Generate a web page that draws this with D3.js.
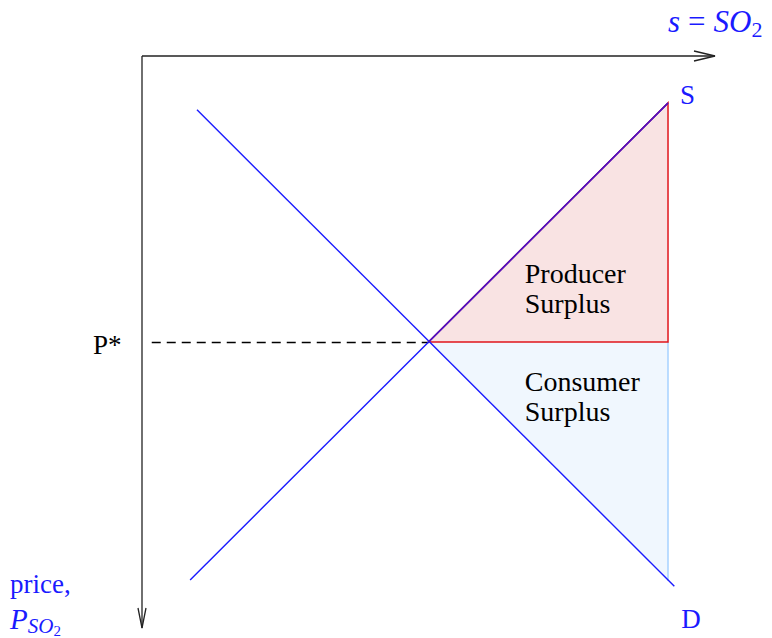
<!DOCTYPE html>
<html>
<head>
<meta charset="utf-8">
<script src="https://cdn.jsdelivr.net/npm/d3@7"></script>
<style>
  body { margin: 0; background: #fff; }
  svg text { font-family: "Liberation Serif", "DejaVu Serif", serif; }
</style>
</head>
<body>
<div id="chart"></div>
<script>
// quantity (right) and price (down) in abstract units
const supplyPts = [{ q: 0.84, p: 9.16 }, { q: 9.18, p: 0.82 }];
const demandPts = [{ q: 0.96, p: 0.94 }, { q: 9.29, p: 9.27 }];
const equilibrium = { q: 5.0, p: 5.0 };
const producerArea = [{ q: 5.0, p: 5.0 }, { q: 9.18, p: 0.82 }, { q: 9.18, p: 5.0 }];
const consumerArea = [{ q: 5.0, p: 5.0 }, { q: 9.18, p: 5.0 }, { q: 9.18, p: 9.18 }];
const dashStart = 0.17;
const areaLabels = [
  { lines: ["Producer", "Surplus"], q: 6.68, p: 3.97 },
  { lines: ["Consumer", "Surplus"], q: 6.68, p: 5.85 },
];

const width = 772, height = 638;
const origin = { x: 142, y: 56 };

const svg = d3.select("#chart").append("svg")
  .attr("width", width)
  .attr("height", height);

const x = d3.scaleLinear().domain([0, 10]).range([origin.x, 715]);
const y = d3.scaleLinear().domain([0, 10]).range([origin.y, 628]);

const line = d3.line().x(d => x(d.q)).y(d => y(d.p));

// surplus areas
svg.append("path")
  .attr("d", line(consumerArea) + "Z")
  .attr("fill", "#f0f7fe")
  .attr("stroke", "none");
svg.append("path")
  .attr("d", line([consumerArea[1], consumerArea[2]]))
  .attr("stroke", "#99ccff")
  .attr("stroke-width", 1.3)
  .attr("fill", "none");

svg.append("path")
  .attr("d", line(producerArea) + "Z")
  .attr("fill", "#f9e3e3")
  .attr("stroke", "#e0161c")
  .attr("stroke-width", 1.5);

// dashed P* guide
svg.append("line")
  .attr("x1", x(dashStart)).attr("x2", x(equilibrium.q))
  .attr("y1", y(equilibrium.p) + 0.5).attr("y2", y(equilibrium.p) + 0.5)
  .attr("stroke", "#000")
  .attr("stroke-width", 1.3)
  .attr("stroke-dasharray", "9,6");

// supply & demand
[supplyPts, demandPts].forEach(pts => {
  svg.append("path")
    .attr("d", line(pts))
    .attr("fill", "none")
    .attr("stroke", "#1a1aff")
    .attr("stroke-width", 1.4);
});
// purple edge along supply where it bounds producer surplus
svg.append("path")
  .attr("d", line([producerArea[0], producerArea[1]]))
  .attr("fill", "none")
  .attr("stroke", "#5a10b8")
  .attr("stroke-width", 1.4);

// axes
const axisG = svg.append("g")
  .attr("stroke", "#222")
  .attr("stroke-width", 1.3)
  .attr("fill", "none");
const xEnd = x.range()[1], yEnd = y.range()[1];
axisG.append("path").attr("d", `M${origin.x},${origin.y}H${xEnd}`);
axisG.append("path").attr("d", `M${xEnd - 21},${origin.y - 5}L${xEnd},${origin.y}L${xEnd - 21},${origin.y + 5}`);
axisG.append("path").attr("d", `M${origin.x},${origin.y}V${yEnd}`);
axisG.append("path").attr("d", `M${origin.x - 4},${yEnd - 20}L${origin.x},${yEnd}L${origin.x + 4},${yEnd - 20}`);

// labels
const blue = "#1a1aff";
const sLabel = svg.append("text")
  .attr("x", 668).attr("y", 32)
  .attr("fill", blue)
  .attr("font-size", 31)
  .attr("font-style", "italic");
sLabel.append("tspan").text("s");
sLabel.append("tspan").attr("font-style", "normal").attr("dx", 8).text("=");
sLabel.append("tspan").attr("dx", 8).text("SO");
sLabel.append("tspan").attr("font-style", "normal").attr("font-size", 22).attr("dy", 5).text("2");

svg.append("text")
  .attr("x", 10).attr("y", 593)
  .attr("fill", blue)
  .attr("font-size", 27)
  .text("price,");
const pLabel = svg.append("text")
  .attr("x", 10).attr("y", 629)
  .attr("fill", blue)
  .attr("font-size", 29)
  .attr("font-style", "italic");
pLabel.append("tspan").text("P");
pLabel.append("tspan").attr("font-size", 21).attr("dy", 4).text("SO");
pLabel.append("tspan").attr("font-style", "normal").attr("font-size", 15).attr("dy", 3).text("2");

svg.append("text")
  .attr("x", x(supplyPts[1].q) + 12).attr("y", y(supplyPts[1].p) + 1)
  .attr("fill", blue)
  .attr("font-size", 27)
  .text("S");
svg.append("text")
  .attr("x", x(demandPts[1].q) + 7).attr("y", y(demandPts[1].p) + 42)
  .attr("fill", blue)
  .attr("font-size", 27)
  .text("D");

svg.append("text")
  .attr("x", 93).attr("y", y(equilibrium.p) + 12)
  .attr("fill", "#000")
  .attr("font-size", 27)
  .text("P*");

areaLabels.forEach(l => {
  const t = svg.append("text")
    .attr("x", x(l.q)).attr("y", y(l.p))
    .attr("fill", "#000")
    .attr("font-size", 28);
  l.lines.forEach((s, i) => {
    t.append("tspan").attr("x", x(l.q)).attr("dy", i === 0 ? 0 : 30).text(s);
  });
});
</script>
</body>
</html>
